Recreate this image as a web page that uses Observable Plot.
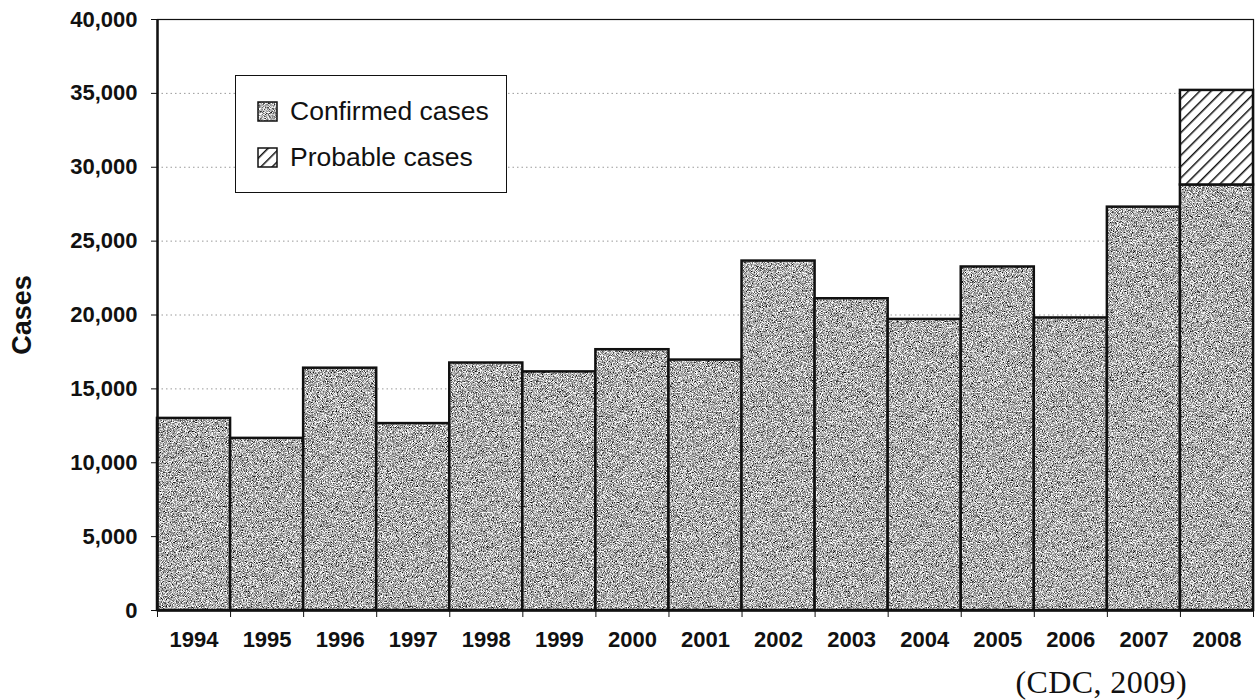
<!DOCTYPE html>
<html>
<head>
<meta charset="utf-8">
<script src="https://cdn.jsdelivr.net/npm/d3@7"></script>
<script src="https://cdn.jsdelivr.net/npm/@observablehq/plot@0.6"></script>
<style>
  html, body { margin: 0; padding: 0; background: white; }
  #wrap { position: relative; width: 1257px; height: 700px; }
  #legend { position: absolute; left: 235px; top: 75px; width: 272px; height: 118px;
    border: 1.5px solid #111; background: white; box-sizing: border-box;
    font-family: 'Liberation Sans', Arial, sans-serif; font-size: 26.5px; color: #111; }
  .row { position: absolute; left: 21px; height: 24px; display: flex; align-items: center; }
  .row svg { margin-right: 12px; }
  #caption { position: absolute; right: 70px; top: 664px; font-family: 'Liberation Serif', 'Times New Roman', serif; font-size: 32px; letter-spacing: 0.4px; color: #111; }
</style>
</head>
<body>
<div id="wrap">
  <div id="chart"></div>
  <div id="legend">
    <div class="row" style="top:23px"><svg width="21" height="21"><rect x="1" y="1" width="19" height="19" fill="url(#noise)" stroke="#111" stroke-width="1.5"/></svg><span>Confirmed cases</span></div>
    <div class="row" style="top:69px"><svg width="21" height="21"><rect x="1" y="1" width="19" height="19" fill="url(#hatch)" stroke="#111" stroke-width="1.5"/></svg><span>Probable cases</span></div>
  </div>
  <div id="caption">(CDC, 2009)</div>
</div>
<script>
const years = [1994, 1995, 1996, 1997, 1998, 1999, 2000, 2001, 2002, 2003, 2004, 2005, 2006, 2007, 2008];
const confirmed = [13000, 11650, 16400, 12650, 16750, 16150, 17650, 16950, 23650, 21100, 19700, 23250, 19800, 27300, 28800];
const probable = [0, 0, 0, 0, 0, 0, 0, 0, 0, 0, 0, 0, 0, 0, 6400];
const yTicks = [0, 5000, 10000, 15000, 20000, 25000, 30000, 35000, 40000];
const gridTicks = [5000, 10000, 15000, 20000, 25000, 30000, 35000];

const rows = years.map((year, i) => ({year, confirmed: confirmed[i], probable: probable[i], total: confirmed[i] + probable[i]}));
const probRows = rows.filter(d => d.probable > 0);
const boundaries = years.map(y => y - 0.5).concat([years[years.length - 1] + 0.5]);

const svg = Plot.plot({
  width: 1257,
  height: 655,
  marginTop: 19,
  marginBottom: 45,
  marginLeft: 157,
  marginRight: 4,
  style: {fontFamily: "'Liberation Sans', Arial, sans-serif", fontSize: "22px", fontWeight: "bold", color: "#111", background: "white"},
  x: {type: "linear", domain: [years[0] - 0.5, years[years.length - 1] + 0.5]},
  y: {domain: [0, 40000]},
  marks: [
    Plot.ruleY(gridTicks, {stroke: "#9a9a9a", strokeWidth: 1, strokeDasharray: "1.5,3"}),
    Plot.rectY(rows, {x1: d => d.year - 0.5, x2: d => d.year + 0.5, y: "confirmed", fill: "url(#noise)", stroke: "#111", strokeWidth: 2.5}),
    Plot.rectY(probRows, {x1: d => d.year - 0.5, x2: d => d.year + 0.5, y1: "confirmed", y2: "total", fill: "url(#hatch)", stroke: "#111", strokeWidth: 2.5}),
    Plot.frame({stroke: "#111", strokeWidth: 1.2}),
    Plot.ruleX([years[0] - 0.5], {stroke: "#111", strokeWidth: 2.5}),
    Plot.ruleY([0], {stroke: "#111", strokeWidth: 2.5}),
    Plot.axisY({ticks: yTicks, tickFormat: d3.format(","), tickSize: 6, tickPadding: 14, label: "Cases", labelAnchor: "center", labelOffset: 146, labelArrow: "none"}),
    Plot.axisX({ticks: boundaries, tickFormat: () => "", tickSize: 7, label: null}),
    Plot.axisX({ticks: years, tickFormat: d => String(d), tickSize: 0, tickPadding: 21, label: null})
  ]
});

const ns = "http://www.w3.org/2000/svg";
const defs = document.createElementNS(ns, "defs");
defs.innerHTML =
  '<pattern id="hatch" patternUnits="userSpaceOnUse" width="8" height="8" patternTransform="rotate(45)"><rect width="8" height="8" fill="white"/><line x1="0" y1="0" x2="0" y2="8" stroke="#111" stroke-width="3"/></pattern>' +
  '<filter id="nzf" x="0" y="0" width="300" height="300" filterUnits="userSpaceOnUse" color-interpolation-filters="sRGB">' +
  '<feTurbulence type="fractalNoise" baseFrequency="1.2" numOctaves="1" seed="4" result="t"/>' +
  '<feColorMatrix in="t" type="matrix" values="0.33 0.33 0.33 0 0  0.33 0.33 0.33 0 0  0.33 0.33 0.33 0 0  0 0 0 0 1"/>' +
  '<feComponentTransfer><feFuncR type="linear" slope="4" intercept="-1.3"/><feFuncG type="linear" slope="4" intercept="-1.3"/><feFuncB type="linear" slope="4" intercept="-1.3"/></feComponentTransfer>' +
  '</filter>' +
  '<pattern id="noise" patternUnits="userSpaceOnUse" width="300" height="300"><rect width="300" height="300" fill="#808080"/><rect width="300" height="300" filter="url(#nzf)"/></pattern>';
svg.insertBefore(defs, svg.firstChild);
svg.querySelectorAll("text").forEach(t => { if (t.textContent === "Cases") t.setAttribute("font-size", "27"); });
document.getElementById("chart").appendChild(svg);
</script>
</body>
</html>
